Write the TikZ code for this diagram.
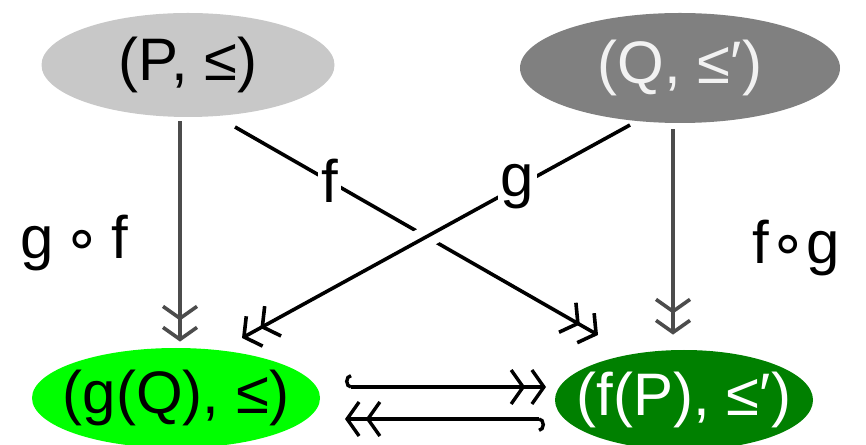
\documentclass[tikz,border=0pt]{standalone}
\usepackage{fontspec}
\setmainfont{Liberation Sans}
\newfontfamily\symfont{DejaVu Sans}
\usetikzlibrary{shapes.geometric, arrows.meta}
\usetikzlibrary{positioning}
\usetikzlibrary{calc}

\definecolor{lightgrey}{RGB}{200,200,200}
\definecolor{midgrey}{RGB}{128,128,128}
\definecolor{brightgreen}{RGB}{0,255,0}
\definecolor{darkgreen}{RGB}{0,128,0}

\begin{document}
\begin{tikzpicture}[
                x=1pt, y=1pt,
                thick,
                font=\fontsize{60}{72}\selectfont,
                setnode/.style={
                        ellipse,
                        inner sep=-40pt,
                        align=center
                    },
                textnode/.style={
                        fill=white,
                        inner sep=3pt
                    },
                labelnode/.style={
                        anchor=base west,
                        inner sep=0pt
                    },
                twohead/.style={
                        line width=3.6pt,
                        -{Straight Barb[length=12pt,width=34pt,sep=5pt]Straight Barb[length=12pt,width=34pt]}
                    },
                hookhead/.style={
                        line width=3.4pt,
                        {Hooks[right,length=6pt,width=26pt]}-{Straight Barb[length=12pt,width=34pt,sep=5pt]Straight Barb[length=12pt,width=34pt]}
                    }
            ]
            \useasboundingbox (0,0) rectangle (866,444);

            % Nodes with colors
            \node[setnode, fill=lightgrey, minimum width=293pt, minimum height=104pt] (P) at (188,379) {(P, ≤)};
            \node[setnode, fill=midgrey, text=white!90!midgrey, minimum width=320pt, minimum height=110pt] (Q) at (680,376) {(Q, ≤′)};
            \node[setnode, fill=brightgreen, minimum width=288pt, minimum height=100pt] (gQ) at (176,46) {(g(Q), ≤)};
            \node[setnode, fill=darkgreen, text=white, minimum width=258pt, minimum height=100pt] (fP) at (684,44) {(f(P), ≤′)};

            % Labels of the closures
            \node[labelnode] (gf) at (20,185) {g\,{\symfont ∘}\,f};
            \node[labelnode] (fg) at (752,180) {f{\symfont ∘}g};

            % Ends of the crossing maps
            \coordinate (fs) at ($(P)+(47,-62)$);
            \coordinate (fe) at ($(fP)+(-86,65)$);
            \coordinate (gs) at ($(Q)+(-50,-57)$);
            \coordinate (ge) at ($(gQ)+(66,60)$);

            % Vertical maps
            \draw[twohead, draw=black!70] ($(P.south)+(-8,-4)$) -- ($(gQ.north)+(4,6)$);
            \draw[twohead, draw=black!70] ($(Q.south)+(-7,-6)$) -- ($(fP.north)+(-11,15)$);

            % Crossing maps, g over f
            \draw[twohead] (fs) -- node[textnode, pos=0.26] (flabel) {f} (fe);
            \draw[white, line width=22pt, shorten <=218pt, shorten >=196pt] (gs) -- (ge);
            \draw[twohead] (gs) -- node[textnode, pos=0.29] (glabel) {g} (ge);

            % Inclusions between the images
            \draw[hookhead] ($(gQ)+(169,11)$) -- ($(fP)+(-138,13)$);
            \draw[hookhead] ($(fP)+(-139,-19)$) -- ($(gQ)+(169,-21)$);

        \end{tikzpicture}
\end{document}
